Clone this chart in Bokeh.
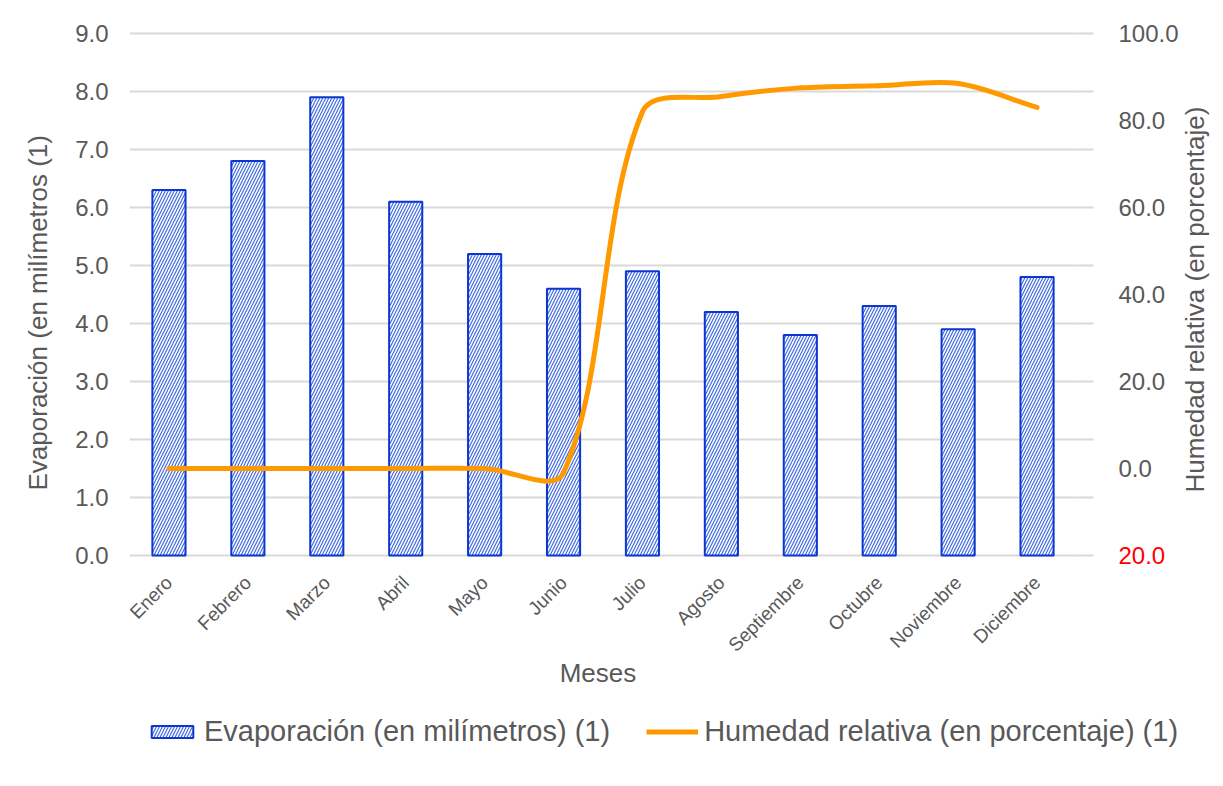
from bokeh.plotting import figure
from bokeh.models import Range1d, LinearAxis, FixedTicker, Legend, LegendItem, NumeralTickFormatter, Title
from bokeh.embed import file_html
from bokeh.resources import INLINE
import math

# ---- data ----
meses = ["Enero", "Febrero", "Marzo", "Abril", "Mayo", "Junio", "Julio",
         "Agosto", "Septiembre", "Octubre", "Noviembre", "Diciembre"]
evaporacion = [6.3, 6.8, 7.9, 6.1, 5.2, 4.6, 4.9, 4.2, 3.8, 4.3, 3.9, 4.8]
humedad = [0.0, 0.0, 0.0, 0.0, 0.0, -1.0, 82.0, 85.5, 87.5, 88.0, 88.5, 83.0]
left_ticks = [0, 1, 2, 3, 4, 5, 6, 7, 8, 9]
right_ticks = [0, 20, 40, 60, 80, 100]
negative_ticks = [-20]
LEFT_MIN, LEFT_MAX = 0, 9
RIGHT_MIN, RIGHT_MAX = -20, 100

FONT = "Liberation Sans"
GRAY = "#595959"
BLUE = "#0b36cf"
HATCH = "#3f6ae6"
ORANGE = "#ff9900"

# plot area inside a larger frame that also hosts the outer texts
PW, PH = 947, 522          # plot area size
TOP, BOTTOM = 33, 231      # frame space above / below the plot area
FW, FH = 1095, TOP + PH + BOTTOM
NC = len(meses)
x_end = NC * FW / PW
lspan = LEFT_MAX - LEFT_MIN
rspan = RIGHT_MAX - RIGHT_MIN
p = figure(frame_width=FW, frame_height=FH,
           x_range=Range1d(0, x_end),
           y_range=Range1d(LEFT_MIN - lspan * BOTTOM / PH, LEFT_MAX + lspan * TOP / PH),
           output_backend="svg", toolbar_location=None,
           min_border_left=128, min_border_right=0,
           min_border_top=0, min_border_bottom=0)
p.outline_line_color = None
p.background_fill_color = "white"
p.border_fill_color = "white"
p.extra_y_ranges = {"hum": Range1d(RIGHT_MIN - rspan * BOTTOM / PH, RIGHT_MAX + rspan * TOP / PH)}

xs = [i + 0.5 for i in range(NC)]

# bars
bars = p.vbar(x=xs, top=evaporacion, width=0.42, bottom=0,
              fill_color="white", line_color=BLUE, line_width=2,
              hatch_pattern="/", hatch_color=HATCH, hatch_scale=6, hatch_weight=1.2)

# smooth line (Excel-like bezier through the data points)
px_x = PW / NC
px_y = PH / rspan
n = len(xs)
def pt(i):
    i = max(0, min(n - 1, i))
    return xs[i], humedad[i]
def dist(a, b):
    return math.hypot((a[0] - b[0]) * px_x, (a[1] - b[1]) * px_y)
x0s, y0s, x1s, y1s, cx0s, cy0s, cx1s, cy1s = [], [], [], [], [], [], [], []
for i in range(n - 1):
    P0, P1, P2, P3 = pt(i - 1), pt(i), pt(i + 1), pt(i + 2)
    d01, d12, d23 = dist(P0, P1), dist(P1, P2), dist(P2, P3)
    f1 = (1 / 3) * d12 / (d01 + d12) if (d01 + d12) > 0 else 0
    f2 = (1 / 3) * d12 / (d12 + d23) if (d12 + d23) > 0 else 0
    x0s.append(P1[0]); y0s.append(P1[1]); x1s.append(P2[0]); y1s.append(P2[1])
    cx0s.append(P1[0] + (P2[0] - P0[0]) * f1); cy0s.append(P1[1] + (P2[1] - P0[1]) * f1)
    cx1s.append(P2[0] - (P3[0] - P1[0]) * f2); cy1s.append(P2[1] - (P3[1] - P1[1]) * f2)
p.bezier(x0=x0s, y0=y0s, x1=x1s, y1=y1s, cx0=cx0s, cy0=cy0s, cx1=cx1s, cy1=cy1s,
         y_range_name="hum", line_color=ORANGE, line_width=5, line_cap="round")
# one-point line: draws nothing in the plot, provides the legend swatch
line_leg = p.line(x=xs[:1], y=humedad[:1], y_range_name="hum", line_color=ORANGE, line_width=5)

# grid (limited to the plot area)
p.xgrid.visible = False
try:
    p.ygrid.cross_bounds = (0, NC)
    p.ygrid.grid_line_color = "#d9d9d9"
    p.ygrid.grid_line_width = 2
except Exception:
    p.ygrid.visible = False
    p.segment(x0=[0] * len(left_ticks), x1=[NC] * len(left_ticks), y0=left_ticks, y1=left_ticks,
              line_color="#d9d9d9", line_width=2, level="underlay")

# left axis
ya = p.yaxis[0]
ya.ticker = FixedTicker(ticks=left_ticks)
ya.formatter = NumeralTickFormatter(format="0.0")
ya.axis_line_color = None
ya.major_tick_line_color = None
ya.minor_tick_line_color = None
ya.major_label_text_font = FONT
ya.major_label_text_font_size = "24px"
ya.major_label_text_color = GRAY
ya.major_label_standoff = 15

# left axis title, starting (bottom end) at y = 490 px
TITLE_BOTTOM = 490
left_title = Title(text="Evaporación (en milímetros (1)", align="left",
                   offset=FH - TITLE_BOTTOM, standoff=40,
                   text_font=FONT, text_font_size="26px", text_font_style="normal",
                   text_color=GRAY)
p.add_layout(left_title, "left")

# right axis
ra = LinearAxis(y_range_name="hum", fixed_location=NC, bounds=(RIGHT_MIN, RIGHT_MAX),
                ticker=FixedTicker(ticks=right_ticks,
                                   minor_ticks=[RIGHT_MIN + rspan * k / 9 for k in range(10)]),
                formatter=NumeralTickFormatter(format="0.0"))
ra.axis_line_color = None
ra.major_tick_line_color = None
ra.minor_tick_line_color = "#d9d9d9"
ra.minor_tick_line_width = 2
ra.minor_tick_in = 0
ra.minor_tick_out = 17
ra.major_tick_out = 0
ra.major_tick_in = 0
ra.major_label_standoff = 25
ra.major_label_text_font = FONT
ra.major_label_text_font_size = "24px"
ra.major_label_text_color = GRAY
p.add_layout(ra, "right")

# negative tick of the right axis shown in red (Excel number format)
ra_neg = LinearAxis(y_range_name="hum", fixed_location=NC, bounds=(RIGHT_MIN, RIGHT_MAX),
                    ticker=FixedTicker(ticks=negative_ticks),
                    formatter=NumeralTickFormatter(format="0.0"))
ra_neg.major_label_overrides = {t: "%.1f" % abs(t) for t in negative_ticks}
ra_neg.axis_line_color = None
ra_neg.major_tick_line_color = None
ra_neg.minor_tick_line_color = None
ra_neg.major_tick_out = 0
ra_neg.major_tick_in = 0
ra_neg.minor_tick_out = 0
ra_neg.minor_tick_in = 0
ra_neg.major_label_standoff = 42
ra_neg.major_label_text_font = FONT
ra_neg.major_label_text_font_size = "24px"
ra_neg.major_label_text_color = "red"
p.add_layout(ra_neg, "right")

# right axis title (reads bottom to top)
ra_title = LinearAxis(y_range_name="hum", fixed_location=NC, bounds=(RIGHT_MIN, 9),
                      ticker=FixedTicker(ticks=[]))
ra_title.axis_line_color = None
ra_title.major_tick_line_color = None
ra_title.minor_tick_line_color = None
ra_title.major_tick_out = 0
ra_title.minor_tick_out = 0
ra_title.major_label_standoff = 0
ra_title.axis_label = "Humedad relativa (en porcentaje)"
ra_title.axis_label_text_font = FONT
ra_title.axis_label_text_font_size = "26px"
ra_title.axis_label_text_font_style = "normal"
ra_title.axis_label_text_color = GRAY
ra_title.axis_label_standoff = 118
ra_title.axis_label_text_align = "center"
ra_title.axis_label_text_baseline = "middle"
try:
    ra_title.axis_label_orientation = math.pi / 2
except Exception:
    pass
p.add_layout(ra_title, "right")

# bottom axis
xa = p.xaxis[0]
xa.fixed_location = LEFT_MIN
xa.bounds = (0, NC - 0.13)
xa.ticker = FixedTicker(ticks=xs)
xa.major_label_overrides = {x: m for x, m in zip(xs, meses)}
xa.major_label_orientation = math.pi / 4
xa.axis_line_color = None
xa.major_tick_line_color = None
xa.minor_tick_line_color = None
xa.major_label_text_font = FONT
xa.major_label_text_font_size = "19px"
xa.major_label_text_color = GRAY
xa.major_label_standoff = 18
xa.axis_label = "Meses"
xa.axis_label_text_font = FONT
xa.axis_label_text_font_size = "26px"
xa.axis_label_text_font_style = "normal"
xa.axis_label_text_color = GRAY
xa.axis_label_standoff = -8

# legend
legend = Legend(items=[LegendItem(label="Evaporación (en milímetros) (1)", renderers=[bars]),
                       LegendItem(label="Humedad relativa (en porcentaje) (1)", renderers=[line_leg])],
                orientation="horizontal", location=(17, 38),
                glyph_width=52, glyph_height=15, label_standoff=6, spacing=36,
                padding=0, margin=0, border_line_color=None, background_fill_alpha=0,
                label_text_font=FONT, label_text_font_size="29px", label_text_color=GRAY)
p.add_layout(legend, "center")

open("out.html", "w").write(file_html(p, INLINE))
